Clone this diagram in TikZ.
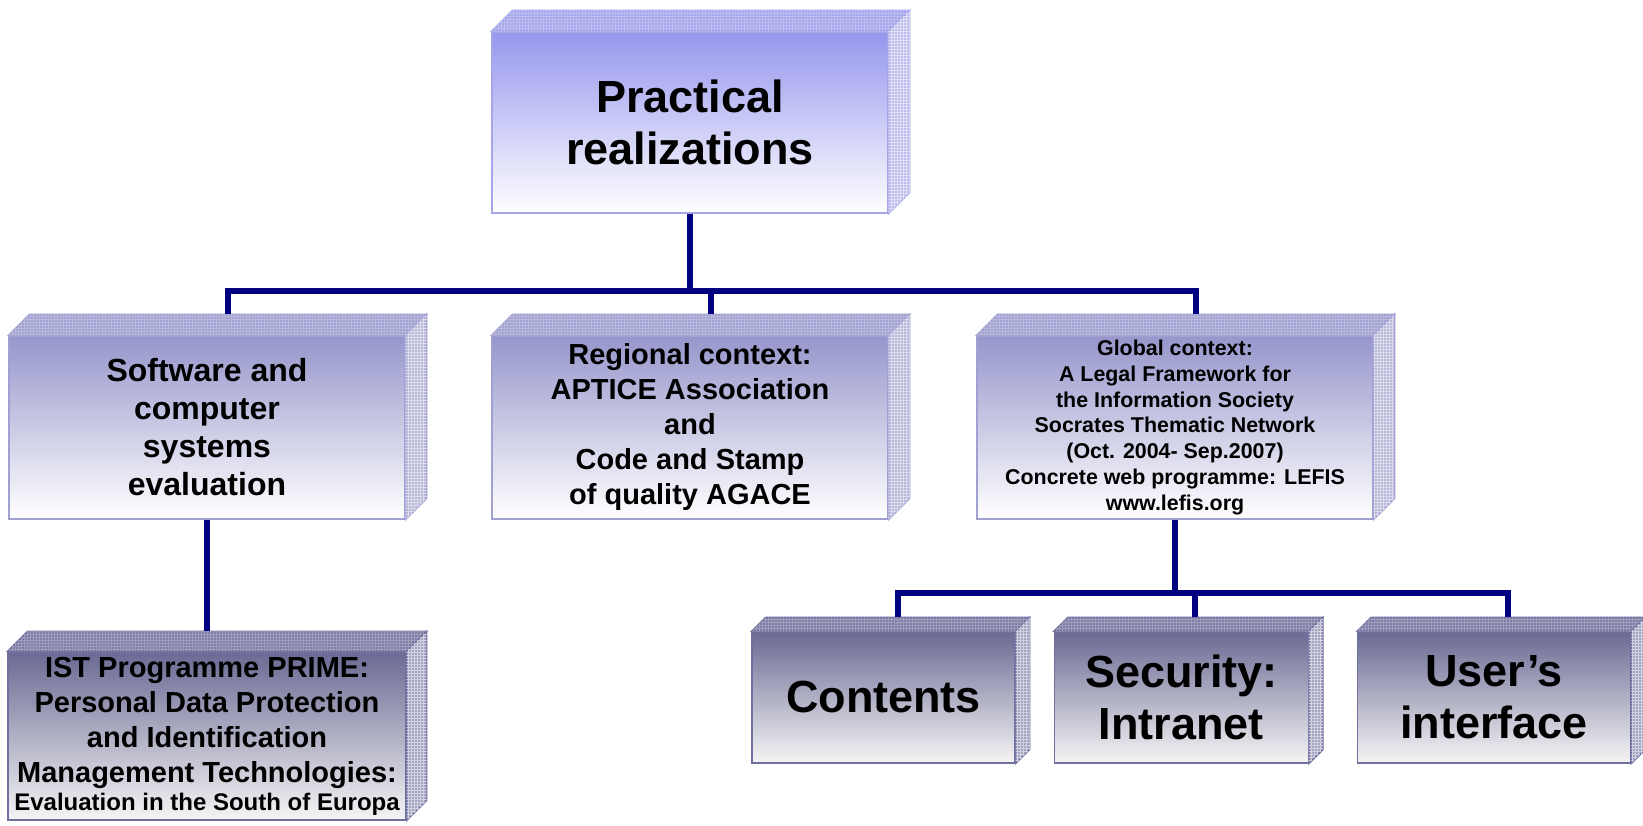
\documentclass[tikz,border=0pt]{standalone}
\usepackage{fontspec}
\setmainfont{Liberation Sans}
\usetikzlibrary{positioning,calc,patterns}

\definecolor{linkblue}{RGB}{0,0,128}
\definecolor{headface}{RGB}{150,150,238}
\definecolor{headtop}{RGB}{166,166,236}
\definecolor{headside}{RGB}{190,190,238}
\definecolor{headedge}{RGB}{165,165,232}
\definecolor{midface}{RGB}{150,150,204}
\definecolor{midtop}{RGB}{162,162,210}
\definecolor{midside}{RGB}{184,184,218}
\definecolor{midedge}{RGB}{160,160,210}
\definecolor{lowface}{RGB}{106,106,148}
\definecolor{lowtop}{RGB}{126,126,166}
\definecolor{lowside}{RGB}{164,164,194}
\definecolor{lowedge}{RGB}{112,112,160}

\tikzset{
  card/.style={inner sep=0pt, align=center, line width=1.3pt, bottom color=white},
  headcard/.style={card, draw=headedge, top color=headface},
  midcard/.style={card, draw=midedge, top color=midface, minimum width=396pt, minimum height=183pt},
  lowcard/.style={card, draw=lowedge, bottom color=white!96!black, top color=lowface},
  link/.style={draw=linkblue, line width=6pt},
}

% top and side faces of a front card
\newcommand\solid[3]{%
  \filldraw[fill=#3top, draw=#3edge, line width=1.3pt] (#1.north west) -- ++(#2,#2) -- ($(#1.north east)+(#2,#2)$) -- (#1.north east) -- cycle;
  \fill[pattern=grid, pattern color=white!25!#3top] (#1.north west) -- ++(#2,#2) -- ($(#1.north east)+(#2,#2)$) -- (#1.north east) -- cycle;
  \filldraw[fill=#3side, draw=#3edge, line width=1.3pt] (#1.north east) -- ++(#2,#2) -- ($(#1.south east)+(#2,#2)$) -- (#1.south east) -- cycle;
  \fill[pattern=grid, pattern color=white!50!#3side] (#1.north east) -- ++(#2,#2) -- ($(#1.south east)+(#2,#2)$) -- (#1.south east) -- cycle;
}

\begin{document}
\begin{tikzpicture}[x=1pt, y=1pt]
  \useasboundingbox (0,0) rectangle (1643,826);

  \node[headcard, minimum width=396pt, minimum height=181pt, font=\fontsize{45}{52}\selectfont\bfseries] (top) at (690,703.5) {Practical\\realizations};

  \node[midcard, font=\fontsize{32}{38}\selectfont\bfseries] (soft) at (207,398.5) {Software and\\computer\\systems\\evaluation};
  \node[midcard, font=\fontsize{29}{35}\selectfont\bfseries] (region) at (690,398.5) {Regional context:\\APTICE Association\\and\\Code and Stamp\\of quality AGACE};
  \node[midcard, font=\fontsize{21.4}{25.8}\selectfont\bfseries] (global) at (1175,398.5) {Global context:\\A Legal Framework for\\the Information Society\\Socrates Thematic Network\\(Oct. 2004- Sep.2007)\\Concrete web programme: LEFIS\\www.lefis.org};

  \node[lowcard, minimum width=398pt, minimum height=168pt, font=\fontsize{29}{35}\selectfont\bfseries] (prime) at (207,90) {IST Programme PRIME:\\Personal Data Protection\\and Identification\\Management Technologies:\\[-7pt]{\fontsize{24}{28}\selectfont Evaluation in the South of Europa}};

  \node[lowcard, minimum width=263pt, minimum height=131pt, font=\fontsize{45}{52}\selectfont\bfseries] (contents) at (883.5,128.5) {Contents};
  \node[lowcard, minimum width=254pt, minimum height=131pt, font=\fontsize{45}{52}\selectfont\bfseries, right=38pt of contents] (security) {Security:\\Intranet};
  \node[lowcard, minimum width=273pt, minimum height=131pt, font=\fontsize{45}{52}\selectfont\bfseries, right=48pt of security] (user) {User’s\\interface};

  \foreach \n/\d/\tone in {top/21/head, soft/21/mid, region/21/mid, global/21/mid, prime/20/low, contents/14/low, security/14/low, user/14/low}
    {\solid{\n}{\d}{\tone}}

  \coordinate (bus) at ($(top.south)+(0,-77)$);
  \foreach \kid in {soft,region,global}
    \draw[link] (top.south) -- (bus) -| ($(\kid.north)+(21,21)$);

  \draw[link] (soft.south) -- ($(prime.north)+(0,20)$);

  \coordinate (bus2) at ($(global.south)+(0,-73)$);
  \foreach \kid in {contents,security,user}
    \draw[link] (global.south) -- (bus2) -| ($(\kid.north)+(14,14)$);
\end{tikzpicture}
\end{document}
